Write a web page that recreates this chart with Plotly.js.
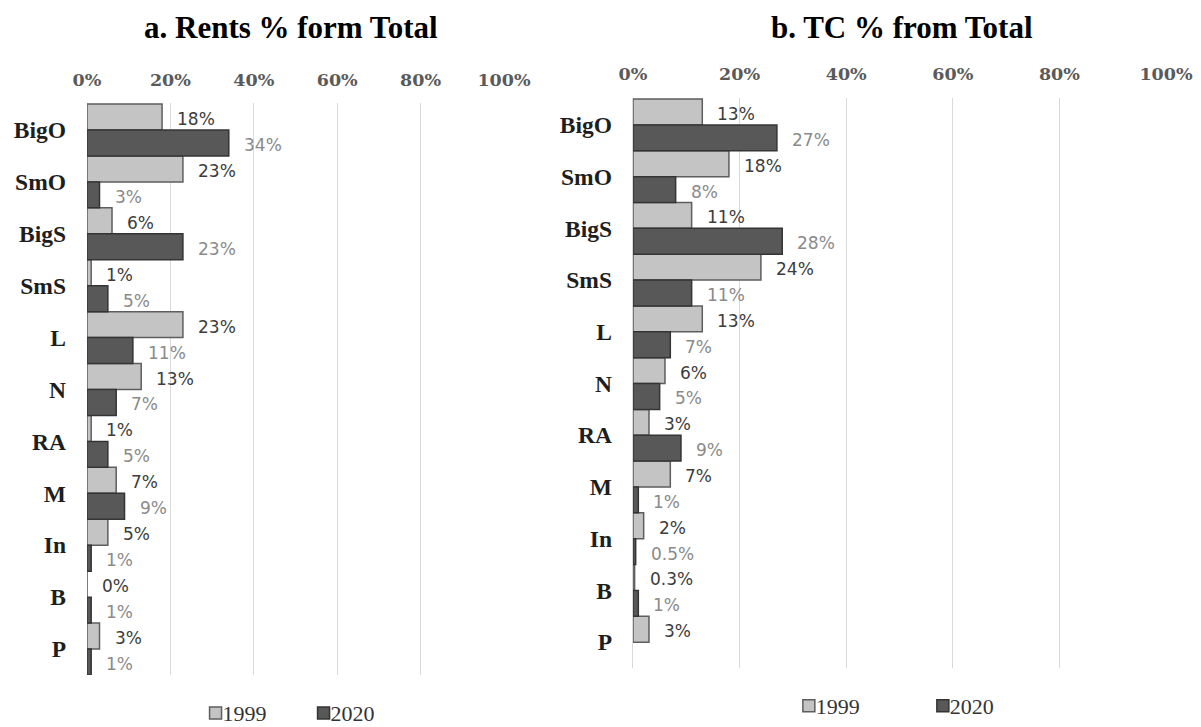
<!DOCTYPE html>
<html>
<head>
<meta charset="utf-8">
<script src="https://cdn.plot.ly/plotly-3.0.1.min.js"></script>
<style>
  html, body { margin: 0; padding: 0; background: #ffffff; }
  #chart { width: 1201px; height: 727px; }
</style>
</head>
<body>
<div id="chart"></div>
<script>
// Sector categories (same order in both panels, top to bottom)
const categories = ['BigO', 'SmO', 'BigS', 'SmS', 'L', 'N', 'RA', 'M', 'In', 'B', 'P'];

// Panel a: rents, % of total
const rents1999 = [18, 23, 6, 1, 23, 13, 1, 7, 5, 0, 3];
const rents2020 = [34, 3, 23, 5, 11, 7, 5, 9, 1, 1, 1];

// Panel b: TC, % of total
const tc1999 = [13, 18, 11, 24, 13, 6, 3, 7, 2, 0.3, 3];
const tc2020 = [27, 8, 28, 11, 7, 5, 9, 1, 0.5, 1, null];

const seriesNames = ['1999', '2020'];
const panelTitles = ['a. Rents % form Total', 'b. TC % from Total'];
const xTickStep = 20;

const light = { fill: '#c4c4c4', line: '#5e5e5e', text: '#3c3c3c' };
const dark = { fill: '#585858', line: '#343434', text: '#8a8a8a' };

function barTrace(values, name, style, xa, ya, legendId) {
  return {
    type: 'bar',
    orientation: 'h',
    y: categories,
    x: values,
    name: name,
    xaxis: xa,
    yaxis: ya,
    legend: legendId,
    marker: { color: style.fill, line: { color: style.line, width: 1.5 } },
    hovertemplate: '%{y}: %{x}%<extra>' + name + '</extra>'
  };
}

const data = [
  barTrace(rents1999, seriesNames[0], light, 'x', 'y', 'legend'),
  barTrace(rents2020, seriesNames[1], dark, 'x', 'y', 'legend'),
  barTrace(tc1999, seriesNames[0], light, 'x2', 'y2', 'legend2'),
  barTrace(tc2020, seriesNames[1], dark, 'x2', 'y2', 'legend2')
];

// Value labels placed just past the end of each bar
function valueLabels(values, xref, yref, offset, style) {
  const out = [];
  values.forEach((v, i) => {
    if (v === null) return;
    out.push({
      xref: xref, yref: yref,
      x: v, y: i + offset,
      text: v + '%',
      showarrow: false,
      xanchor: 'left', yanchor: 'middle',
      xshift: 13, yshift: -2,
      font: { family: 'DejaVu Sans', size: 17, color: style.text }
    });
  });
  return out;
}

const titleFont = { family: 'Liberation Serif', size: 31, color: '#000000', weight: 'bold' };

const annotations = [
  { xref: 'paper', yref: 'paper', x: 0.2423, y: 0.962, xanchor: 'center', yanchor: 'middle',
    text: panelTitles[0], showarrow: false, font: titleFont },
  { xref: 'paper', yref: 'paper', x: 0.751, y: 0.962, xanchor: 'center', yanchor: 'middle',
    text: panelTitles[1], showarrow: false, font: titleFont }
]
  .concat(valueLabels(rents1999, 'x', 'y', -0.25, light))
  .concat(valueLabels(rents2020, 'x', 'y', 0.25, dark))
  .concat(valueLabels(tc1999, 'x2', 'y2', -0.25, light))
  .concat(valueLabels(tc2020, 'x2', 'y2', 0.25, dark));

function valueAxis(domain, anchor) {
  return {
    domain: domain,
    anchor: anchor,
    side: 'top',
    range: [0, 100],
    dtick: xTickStep,
    tick0: 0,
    ticksuffix: '%',
    showgrid: true,
    gridcolor: '#d9d9d9',
    gridwidth: 1,
    zeroline: true,
    zerolinecolor: '#d9d9d9',
    zerolinewidth: 1,
    showline: false,
    ticks: '',
    ticklabelstandoff: 13,
    tickfont: { family: 'DejaVu Serif', size: 17.5, color: '#5a5a5a', weight: 'bold' },
    fixedrange: true
  };
}

function categoryAxis(domain, anchor) {
  return {
    domain: domain,
    anchor: anchor,
    type: 'category',
    autorange: 'reversed',
    showgrid: false,
    zeroline: false,
    showline: false,
    ticks: '',
    ticklabelstandoff: 20,
    tickfont: { family: 'Liberation Serif', size: 23.5, color: '#1e1e1e', weight: 'bold' },
    fixedrange: true
  };
}

const legendFont = { family: 'Liberation Serif', size: 22, color: '#333333' };

const layout = {
  width: 1201,
  height: 727,
  margin: { l: 0, r: 0, t: 0, b: 0 },
  paper_bgcolor: '#ffffff',
  plot_bgcolor: '#ffffff',
  barmode: 'group',
  bargap: 0,
  bargroupgap: 0,
  showlegend: true,
  xaxis: valueAxis([0.07244, 0.41965], 'y'),
  yaxis: categoryAxis([0.07153, 0.85832], 'x'),
  xaxis2: valueAxis([0.52706, 0.97086], 'y2'),
  yaxis2: categoryAxis([0.08116, 0.8652], 'x2'),
  legend: {
    orientation: 'h', x: 0.152, y: 0, xanchor: 'left', yanchor: 'bottom',
    font: legendFont, bgcolor: 'rgba(0,0,0,0)', traceorder: 'normal',
    entrywidth: 63, entrywidthmode: 'pixels'
  },
  legend2: {
    orientation: 'h', x: 0.646, y: 0, xanchor: 'left', yanchor: 'bottom',
    font: legendFont, bgcolor: 'rgba(0,0,0,0)', traceorder: 'normal',
    entrywidth: 89, entrywidthmode: 'pixels'
  },
  annotations: annotations
};

// Vertical centre (px from the top) wanted for each legend row
const legendRowCentre = { legend: 714, legend2: 708 };

Plotly.newPlot('chart', data, layout, { displayModeBar: false, staticPlot: true }).then(() => {
  const root = document.getElementById('chart');
  const top = root.getBoundingClientRect().top;
  // Tuck each legend swatch right next to its label
  root.querySelectorAll('.legendpoints').forEach(g => {
    g.setAttribute('transform', 'translate(13,0)');
  });
  // Drop each legend row down to its baseline under the panel
  Object.keys(legendRowCentre).forEach(cls => {
    const g = root.querySelector('g.' + cls);
    if (!g) return;
    const label = g.querySelector('.legendtext');
    if (!label) return;
    const r = label.getBoundingClientRect();
    const dy = legendRowCentre[cls] - (r.top - top + r.height / 2);
    const t = g.getAttribute('transform') || '';
    g.setAttribute('transform', t + ' translate(0,' + dy.toFixed(1) + ')');
  });
});
</script>
</body>
</html>
